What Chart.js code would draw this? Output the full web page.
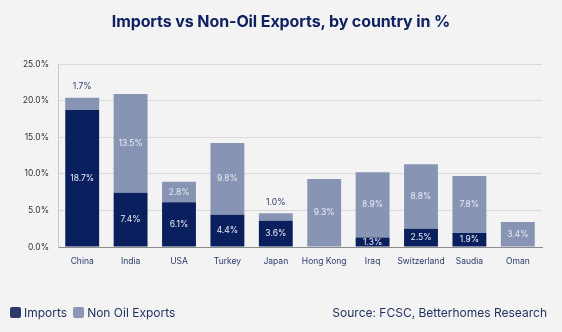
<!DOCTYPE html>
<html>
<head>
<meta charset="utf-8">
<script src="https://cdn.jsdelivr.net/npm/chart.js@4"></script>
<style>
  html, body { margin: 0; padding: 0; background: #f3f3f3; }
  #wrap { position: relative; width: 562px; height: 332px; background: #f3f3f3; font-family: Inter, "Noto Sans", sans-serif; }
  #chart { position: absolute; left: 0; top: 0; }
  .title { position: absolute; left: 0; width: 562px; top: 11px; text-align: center; color: #0f2160; font-weight: 700; font-size: 16px; letter-spacing: -0.1px; }
  .legend { position: absolute; left: 10px; top: 305px; font-size: 12px; color: #1f2d5c; display: flex; align-items: center; }
  .legend span.box { display: inline-block; width: 11px; height: 11px; border-radius: 2px; margin-right: 3px; }
  .legend span.lbl { margin-right: 6px; }
  .source { position: absolute; right: 15px; top: 305px; font-size: 12px; color: #1f2d5c; }
</style>
</head>
<body>
<div id="wrap">
  <canvas id="chart" width="562" height="332"></canvas>
  <div class="title">Imports vs Non-Oil Exports, by country in %</div>
  <div class="legend">
    <span class="box" style="background:#2c3a68"></span><span class="lbl">Imports</span>
    <span class="box" style="background:#8a97b6"></span><span class="lbl">Non Oil Exports</span>
  </div>
  <div class="source">Source: FCSC, Betterhomes Research</div>
</div>
<script>
/* =========================
   DATA
========================= */
const countries = ["China", "India", "USA", "Turkey", "Japan", "Hong Kong", "Iraq", "Switzerland", "Saudia", "Oman"];
const imports = [18.7, 7.4, 6.1, 4.4, 3.6, 0, 1.3, 2.5, 1.9, 0];
const nonOilExports = [1.7, 13.5, 2.8, 9.8, 1.0, 9.3, 8.9, 8.8, 7.8, 3.4];
const yTicks = [0, 5, 10, 15, 20, 25];

const NAVY = "#0a1f5e";
const STEEL = "#8794b4";

/* =========================
   VALUE LABELS
========================= */
const valueLabels = {
  id: "valueLabels",
  afterDatasetsDraw(chart) {
    const ctx = chart.ctx;
    ctx.save();
    ctx.font = "8.5px Inter, 'Noto Sans', sans-serif";
    ctx.textAlign = "center";
    ctx.textBaseline = "middle";

    chart.data.datasets.forEach((ds, di) => {
      const meta = chart.getDatasetMeta(di);
      meta.data.forEach((bar, i) => {
        const v = ds.data[i];
        if (!v) return;
        const txt = v.toFixed(1) + "%";
        // small top segments get their label above the stack
        if (di === 1 && v < 2) {
          ctx.fillStyle = "#2b3a6b";
          ctx.fillText(txt, bar.x, bar.y - 11);
        } else {
          ctx.fillStyle = "#e9ecf3";
          ctx.fillText(txt, bar.x, (bar.y + bar.base) / 2);
        }
      });
    });
    ctx.restore();
  }
};

new Chart(document.getElementById("chart"), {
  type: "bar",
  data: {
    labels: countries,
    datasets: [
      { label: "Imports", data: imports, backgroundColor: NAVY, borderWidth: 0 },
      { label: "Non Oil Exports", data: nonOilExports, backgroundColor: STEEL, borderWidth: 0 }
    ]
  },
  options: {
    responsive: false,
    animation: false,
    layout: { padding: { top: 64, left: 0, right: 20, bottom: 57 } },
    plugins: {
      legend: { display: false },
      title: { display: false },
      tooltip: { enabled: false }
    },
    datasets: { bar: { categoryPercentage: 1, barPercentage: 0.7 } },
    scales: {
      x: {
        stacked: true,
        afterFit: s => { s.height = 28; },
        grid: { display: false, drawTicks: false },
        border: { color: "#8c8c8c", width: 1 },
        ticks: {
          color: "#2b3a6b",
          padding: 9,
          autoSkip: false,
          minRotation: 0,
          maxRotation: 0,
          font: { size: 8.5, family: "Inter, 'Noto Sans', sans-serif" }
        }
      },
      y: {
        stacked: true,
        min: 0,
        max: 25,
        afterFit: s => { s.width = 58; },
        afterBuildTicks: s => { s.ticks = yTicks.map(v => ({ value: v })); },
        grid: { color: "#d9d9d9", drawTicks: false },
        border: { color: "#c8c8c8", width: 1 },
        ticks: {
          color: "#333",
          padding: 9,
          font: { size: 8.5, family: "Inter, 'Noto Sans', sans-serif" },
          callback: v => v.toFixed(1) + "%"
        }
      }
    }
  },
  plugins: [valueLabels]
});
</script>
</body>
</html>
